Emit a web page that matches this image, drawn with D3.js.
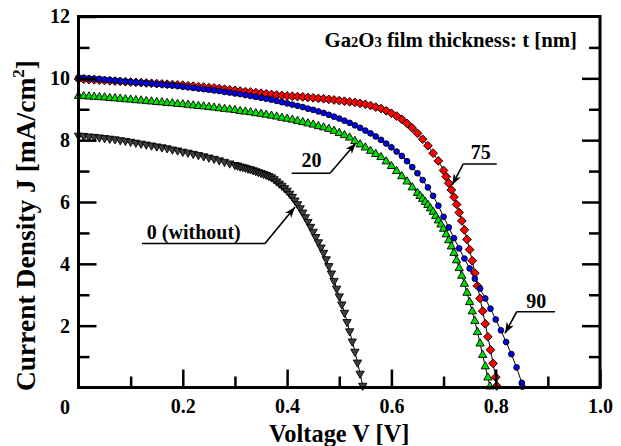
<!DOCTYPE html>
<html><head><meta charset="utf-8">
<script src="https://cdn.jsdelivr.net/npm/d3@7"></script>
<style>
body{margin:0;background:#fff}
text{font-family:"Liberation Serif","Times New Roman",serif;font-weight:bold;fill:#000}
</style>
</head><body>
<svg id="chart" width="621" height="446"></svg>
<script>
// ---------- tick values / labels ----------
const xMajorTicks = [0.2, 0.4, 0.6, 0.8, 1.0];
const xMajorLabels = ["0.2", "0.4", "0.6", "0.8", "1.0"];
const xMinorTicks = [0.1, 0.3, 0.5, 0.7, 0.9];
const yMajorTicks = [2, 4, 6, 8, 10, 12];
const yMajorLabels = ["2", "4", "6", "8", "10", "12"];
const yMinorTicks = [1, 3, 5, 7, 9, 11];
const originLabel = "0";
const xTitle = "Voltage V [V]";
const yTitle = "Current Density J [mA/cm";

// ---------- series: t = 0 nm (without) ----------
const v0 = [0.00,0.01,0.02,0.03,0.04,0.05,0.06,0.07,0.08,0.09,0.10,0.11,0.12,0.13,0.14,0.15,0.16,0.17,0.18,0.19,0.20,0.21,0.22,0.23,0.24,0.25,0.26,0.27,0.28,0.29,0.30,
  0.305,0.31,0.315,0.32,0.325,0.33,0.335,0.34,0.345,0.35,0.355,0.36,0.365,0.37,0.375,0.38,0.385,0.39,0.395,0.40,0.405,0.41,0.415,0.42,0.425,0.43,0.435,0.44,0.445,0.45,0.455,0.46,0.465,0.47,0.475,0.48,0.485,0.49,0.495,0.50,0.505,0.51,0.515,0.52,0.525,0.53,0.535,0.54,0.545];
const j0 = [8.15,8.14,8.12,8.11,8.09,8.07,8.05,8.03,8.00,7.98,7.95,7.92,7.89,7.86,7.83,7.80,7.77,7.74,7.70,7.67,7.63,7.60,7.56,7.52,7.48,7.44,7.40,7.35,7.30,7.25,7.20,
  7.18,7.15,7.13,7.11,7.08,7.06,7.03,7.00,6.97,6.94,6.91,6.88,6.84,6.80,6.74,6.67,6.60,6.53,6.45,6.37,6.27,6.17,6.05,5.93,5.80,5.66,5.51,5.36,5.20,5.04,4.87,4.70,4.53,4.36,4.15,3.93,3.69,3.45,3.20,2.95,2.69,2.42,2.12,1.82,1.49,1.16,0.81,0.45,0.06];

// ---------- series: t = 20 nm ----------
const v20 = [0.00,0.01,0.02,0.03,0.04,0.05,0.06,0.07,0.08,0.09,0.10,0.11,0.12,0.13,0.14,0.15,0.16,0.17,0.18,0.19,0.20,0.21,0.22,0.23,0.24,0.25,0.26,0.27,0.28,0.29,0.30,0.31,0.32,0.33,0.34,0.35,0.36,0.37,0.38,0.39,0.40,0.41,0.42,0.43,0.44,0.45,0.46,0.47,0.48,0.49,0.50,0.51,0.52,0.53,0.54,0.55,0.56,0.57,0.58,0.59,0.60,0.61,0.62,0.63,0.64,0.65,
  0.655,0.66,0.665,0.67,0.675,0.68,0.685,0.69,0.695,0.70,0.705,0.71,0.715,0.72,0.725,0.73,0.735,0.74,0.745,0.75,0.755,0.76,0.765,0.77,0.775,0.78,0.785,0.789];
const j20 = [9.43,9.42,9.41,9.40,9.39,9.38,9.36,9.35,9.34,9.32,9.31,9.29,9.28,9.26,9.25,9.23,9.22,9.20,9.19,9.17,9.16,9.14,9.12,9.10,9.09,9.07,9.05,9.03,9.01,8.99,8.97,8.94,8.92,8.90,8.87,8.85,8.82,8.79,8.76,8.72,8.69,8.66,8.62,8.58,8.54,8.50,8.45,8.41,8.36,8.30,8.23,8.16,8.08,7.97,7.86,7.76,7.65,7.55,7.45,7.31,7.16,7.00,6.83,6.66,6.47,6.29,
  6.19,6.10,6.00,5.90,5.79,5.68,5.54,5.40,5.27,5.13,4.95,4.76,4.56,4.35,4.11,3.86,3.61,3.35,3.06,2.76,2.46,2.15,1.79,1.42,1.05,0.68,0.32,0.03];

// ---------- series: t = 75 nm ----------
const v75 = [0.00,0.01,0.02,0.03,0.04,0.05,0.06,0.07,0.08,0.09,0.10,0.11,0.12,0.13,0.14,0.15,0.16,0.17,0.18,0.19,0.20,0.21,0.22,0.23,0.24,0.25,0.26,0.27,0.28,0.29,0.30,0.31,0.32,0.33,0.34,0.35,0.36,0.37,0.38,0.39,0.40,0.41,0.42,0.43,0.44,0.45,0.46,0.47,0.48,0.49,0.50,0.51,0.52,0.53,0.54,0.55,0.56,0.57,0.58,0.59,0.60,0.61,0.62,0.63,0.64,0.65,0.66,0.67,0.68,0.69,0.70,
  0.705,0.71,0.715,0.72,0.725,0.73,0.735,0.74,0.745,0.75,0.755,0.76,0.765,0.77,0.775,0.78,0.785,0.79,0.795,0.80,0.802];
const j75 = [9.98,9.97,9.96,9.95,9.94,9.93,9.92,9.91,9.90,9.89,9.88,9.87,9.86,9.85,9.84,9.83,9.82,9.81,9.80,9.79,9.78,9.76,9.75,9.73,9.72,9.70,9.69,9.67,9.65,9.63,9.61,9.59,9.57,9.56,9.54,9.52,9.50,9.48,9.46,9.45,9.43,9.42,9.41,9.40,9.38,9.37,9.35,9.34,9.32,9.30,9.28,9.26,9.24,9.22,9.19,9.16,9.12,9.07,9.02,8.95,8.87,8.78,8.67,8.54,8.39,8.22,8.03,7.82,7.58,7.33,7.02,
  6.82,6.61,6.39,6.16,5.92,5.66,5.39,5.10,4.79,4.46,4.10,3.70,3.29,2.88,2.47,2.06,1.64,1.22,0.78,0.33,0.05];

// ---------- series: t = 90 nm ----------
const v90 = [0.00,0.01,0.02,0.03,0.04,0.05,0.06,0.07,0.08,0.09,0.10,0.11,0.12,0.13,0.14,0.15,0.16,0.17,0.18,0.19,0.20,0.21,0.22,0.23,0.24,0.25,0.26,0.27,0.28,0.29,0.30,0.31,0.32,0.33,0.34,0.35,0.36,0.37,0.38,0.39,0.40,0.41,0.42,0.43,0.44,0.45,0.46,0.47,0.48,0.49,0.50,0.51,0.52,0.53,0.54,0.55,0.56,0.57,0.58,0.59,0.60,0.61,0.62,0.63,0.64,0.65,0.66,0.67,0.68,0.69,0.70,0.71,0.72,0.73,0.74,0.75,0.76,0.77,0.78,0.79,0.80,0.81,0.82,0.83,0.84,0.85,0.851];
const j90 = [10.03,10.02,10.00,9.99,9.98,9.96,9.95,9.93,9.92,9.90,9.89,9.87,9.86,9.84,9.83,9.81,9.80,9.78,9.77,9.75,9.73,9.71,9.69,9.67,9.65,9.63,9.61,9.59,9.56,9.54,9.51,9.49,9.46,9.43,9.40,9.37,9.34,9.31,9.27,9.23,9.19,9.15,9.11,9.07,9.02,8.98,8.93,8.88,8.82,8.76,8.70,8.63,8.56,8.48,8.40,8.31,8.22,8.12,8.01,7.89,7.77,7.63,7.49,7.32,7.13,6.93,6.71,6.47,6.20,5.88,5.52,5.18,4.83,4.50,4.17,3.85,3.52,3.20,2.88,2.55,2.20,1.85,1.47,1.08,0.65,0.15,0.03];

// ---------- annotations (anchors in data units) ----------
const annotations = [
  {label: "0 (without)", textV: 0.131, textJ: 4.80, anchor: "start", lineV0: 0.1218, lineV1: 0.3576, lineJ: 4.66, tipV: 0.4152, tipJ: 5.84},
  {label: "20",  textV: 0.447, textJ: 7.14, anchor: "middle", lineV0: 0.4088, lineV1: 0.4823, lineJ: 6.93, tipV: 0.532, tipJ: 7.91},
  {label: "75",  textV: 0.7715, textJ: 7.38, anchor: "middle", lineV0: 0.7379, lineV1: 0.8019, lineJ: 7.23, tipV: 0.7166, tipJ: 6.55},
  {label: "90",  textV: 0.8779, textJ: 2.56, anchor: "middle", lineV0: 0.8403, lineV1: 0.9137, lineJ: 2.45, tipV: 0.8178, tipJ: 1.75}
];

// ---------- drawing ----------
const svg = d3.select("#chart");
const x = d3.scaleLinear().domain([0, 1]).range([78.5, 600]);
const y = d3.scaleLinear().domain([0, 12]).range([387.5, 16.5]);

const series = [
  {v: v0,  j: j0,  shape: "down",    fill: "#3f3f3f"},
  {v: v20, j: j20, shape: "up",      fill: "#00e000"},
  {v: v75, j: j75, shape: "diamond", fill: "#ff0000"},
  {v: v90, j: j90, shape: "circle",  fill: "#0000f0"}
];

const line = d3.line().x(d => x(d[0])).y(d => y(d[1]));
const symGen = {
  down: d3.symbol(d3.symbolTriangle, 30),
  up: d3.symbol(d3.symbolTriangle, 30),
  diamond: d3.symbol(d3.symbolSquare, 38),
  circle: d3.symbol(d3.symbolCircle, 26)
};
const rot = {down: 180, up: 0, diamond: 45, circle: 0};

series.forEach(s => {
  const pts = s.v.map((v, i) => [v, s.j[i]]);
  svg.append("path").datum(pts).attr("d", line)
    .attr("fill", "none").attr("stroke", "#000").attr("stroke-width", 1);
  svg.append("g").selectAll("path").data(pts).join("path")
    .attr("d", symGen[s.shape])
    .attr("transform", d => `translate(${x(d[0])},${y(d[1])}) rotate(${rot[s.shape]})`)
    .attr("fill", s.fill).attr("stroke", "#000").attr("stroke-width", 0.9);
});

// frame
svg.append("rect").attr("x", x(0)).attr("y", y(12))
  .attr("width", x(1) - x(0)).attr("height", y(0) - y(12))
  .attr("fill", "none").attr("stroke", "#000").attr("stroke-width", 3);

function styleAxis(g) {
  g.select(".domain").remove();
  g.selectAll(".tick line").attr("stroke", "#000").attr("stroke-width", 2.5);
  g.selectAll(".tick text").attr("font-size", 20)
    .attr("font-family", '"Liberation Serif","Times New Roman",serif').attr("font-weight", "bold").attr("fill", "#000");
}

// bottom
svg.append("g").attr("transform", `translate(0,${y(0)})`)
  .call(d3.axisBottom(x).tickValues(xMajorTicks).tickSize(-18).tickPadding(11)
    .tickFormat((d, i) => xMajorLabels[i])).call(styleAxis);
svg.append("g").attr("transform", `translate(0,${y(0)})`)
  .call(d3.axisBottom(x).tickValues(xMinorTicks).tickSize(-11).tickFormat("")).call(styleAxis);
// left
svg.append("g").attr("transform", `translate(${x(0)},0)`)
  .call(d3.axisLeft(y).tickValues(yMajorTicks).tickSize(-18).tickPadding(8.5)
    .tickFormat((d, i) => yMajorLabels[i])).call(styleAxis);
svg.append("g").attr("transform", `translate(${x(0)},0)`)
  .call(d3.axisLeft(y).tickValues(yMinorTicks).tickSize(-11).tickFormat("")).call(styleAxis);
// right
svg.append("g").attr("transform", `translate(${x(1)},0)`)
  .call(d3.axisRight(y).tickValues(yMajorTicks.slice(0, -1)).tickSize(-18).tickFormat("")).call(styleAxis);
svg.append("g").attr("transform", `translate(${x(1)},0)`)
  .call(d3.axisRight(y).tickValues(yMinorTicks).tickSize(-11).tickFormat("")).call(styleAxis);

// origin label
svg.append("text").attr("x", 65).attr("y", 413.5).attr("text-anchor", "middle")
  .attr("font-size", 20).text(originLabel);

// axis titles
svg.append("text").attr("x", (x(0) + x(1)) / 2).attr("y", 441.5).attr("text-anchor", "middle")
  .attr("font-size", 24.4).text(xTitle);
const yt = svg.append("text").attr("transform", "translate(35,225.5) rotate(-90)")
  .attr("text-anchor", "middle").attr("font-size", 27.5);
yt.append("tspan").text(yTitle);
yt.append("tspan").attr("font-size", 17).attr("dy", -11).text("2");
yt.append("tspan").attr("dy", 11).text("]");

// title
const tt = svg.append("text").attr("x", 577).attr("y", 46.5).attr("text-anchor", "end").attr("font-size", 20.8);
tt.append("tspan").text("Ga");
tt.append("tspan").attr("font-size", 14.5).text("2");
tt.append("tspan").text("O");
tt.append("tspan").attr("font-size", 14.5).text("3");
tt.append("tspan").text(" film thickness: t [nm]");

// arrow marker
svg.append("defs").append("marker").attr("id", "arr")
  .attr("viewBox", "-11 -5 12 10").attr("refX", 0).attr("refY", 0)
  .attr("markerWidth", 12).attr("markerHeight", 10).attr("markerUnits", "userSpaceOnUse")
  .attr("orient", "auto")
  .append("path").attr("d", "M0,0 L-11,-4 L-8,0 L-11,4 Z").attr("fill", "#000");

annotations.forEach(a => {
  svg.append("text").attr("x", x(a.textV)).attr("y", y(a.textJ))
    .attr("text-anchor", a.anchor).attr("font-size", 20).text(a.label);
  const connectV = (a.tipV < a.lineV0) ? a.lineV0 : a.lineV1;
  svg.append("path")
    .attr("d", `M${x(a.lineV0)},${y(a.lineJ)} H${x(a.lineV1)} M${x(connectV)},${y(a.lineJ)} L${x(a.tipV)},${y(a.tipJ)}`)
    .attr("fill", "none").attr("stroke", "#000").attr("stroke-width", 1.6);
  svg.append("path")
    .attr("d", `M${x(connectV)},${y(a.lineJ)} L${x(a.tipV)},${y(a.tipJ)}`)
    .attr("fill", "none").attr("stroke", "none").attr("marker-end", "url(#arr)");
});
</script>
</body></html>
